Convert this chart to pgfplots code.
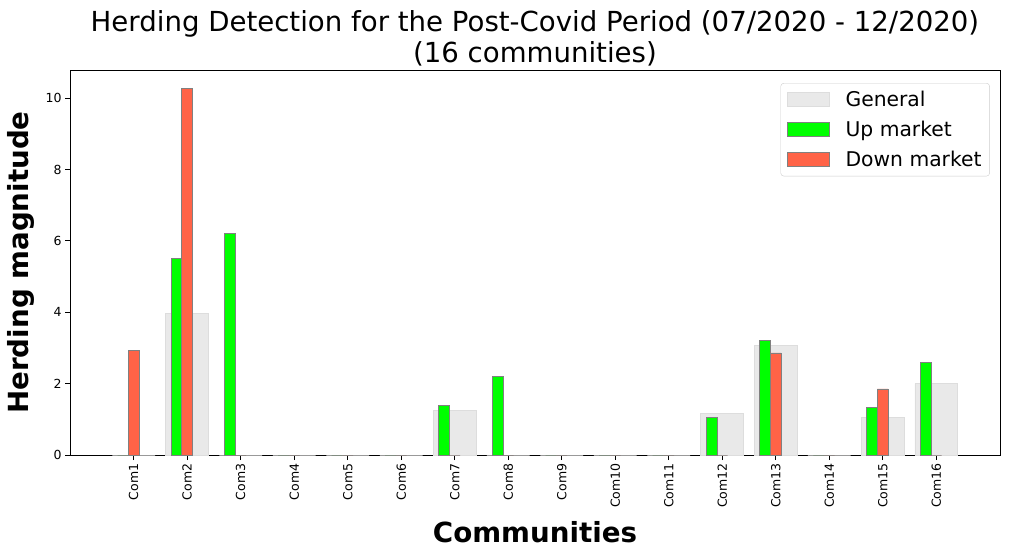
\documentclass[border=0pt]{standalone}
\usepackage{fontspec}
\setmainfont{DejaVu Sans}
\usepackage{pgfplots}
\pgfplotsset{compat=1.18}

\definecolor{upgreen}{HTML}{00FF00}
\definecolor{downred}{HTML}{FF6347}
\definecolor{edgegray}{HTML}{808080}
\definecolor{genfill}{HTML}{E9E9E9}
\definecolor{genedge}{HTML}{DDDDDD}

\begin{document}
\begin{tikzpicture}
\begin{axis}[
    scale only axis,
    width=930pt, height=385pt,
    xmin=-1.19, xmax=16.19, ymin=0, ymax=10.79,
    xtick={0,...,15},
    xticklabels={Com1,Com2,Com3,Com4,Com5,Com6,Com7,Com8,Com9,Com10,Com11,Com12,Com13,Com14,Com15,Com16},
    ytick={0,2,4,6,8,10},
    tick pos=left, tick align=outside,
    major tick length=5pt,
    every tick/.style={black, line width=0.9pt},
    axis line style={line width=0.9pt},
    /pgf/number format/assume math mode=true,
    xticklabel style={rotate=90, anchor=east, font=\fontsize{12.5}{14}\selectfont},
    yticklabel style={font=\fontsize{12.5}{14}\selectfont},
    title={Herding Detection for the Post-Covid Period (07/2020 - 12/2020)\\(16 communities)},
    title style={align=center, font=\fontsize{27.6}{30.5}\selectfont, at={(0.5,1)}, anchor=south, inner sep=0pt, yshift=-2pt},
    xlabel={\bfseries Communities},
    ylabel={\bfseries Herding magnitude},
    every axis x label/.style={at={(axis description cs:0.5,-0.2)}, anchor=center, font=\fontsize{27.7}{30}\selectfont},
    every axis y label/.style={at={(axis description cs:-0.0527,0.5)}, rotate=90, anchor=center, font=\fontsize{27.7}{30}\selectfont},
    legend cell align=left,
    legend image code/.code={\draw[#1, sharp corners] (0pt,-7pt) rectangle (42pt,7pt);},
    legend style={at={(0.989,0.966)}, anchor=north east, draw=black!20, rounded corners=3pt,
        font=\fontsize{20.3}{24}\selectfont, row sep=9pt, inner xsep=6pt, inner ysep=6pt,
        /tikz/every odd column/.append style={column sep=14pt}},
]
% General
\addplot[ybar, bar width=0.8, bar shift=0, fill=genfill, draw=genedge, line width=0.8pt]
    coordinates {(0,0) (1,3.96) (2,0) (3,0) (4,0) (5,0) (6,1.24) (7,0) (8,0) (9,0) (10,0) (11,1.17) (12,3.07) (13,0) (14,1.06) (15,2.00)};
\addlegendentry{General}
% Up market
\addplot[ybar, bar width=0.2, bar shift=-0.2, fill=upgreen, draw=edgegray, line width=0.8pt]
    coordinates {(0,0) (1,5.51) (2,6.22) (3,0) (4,0) (5,0) (6,1.38) (7,2.20) (8,0) (9,0) (10,0) (11,1.05) (12,3.21) (13,0) (14,1.34) (15,2.60)};
\addlegendentry{Up market}
% Down market
\addplot[ybar, bar width=0.2, bar shift=0, fill=downred, draw=edgegray, line width=0.8pt]
    coordinates {(0,2.93) (1,10.28) (2,0) (3,0) (4,0) (5,0) (6,0) (7,0) (8,0) (9,0) (10,0) (11,0) (12,2.86) (13,0) (14,1.85) (15,0)};
\addlegendentry{Down market}
\coordinate (ll) at (rel axis cs:0,0);
\coordinate (ur) at (rel axis cs:1,1);
\end{axis}
\pgfresetboundingbox
\path[use as bounding box] ([shift={(-70pt,-102pt)}]ll) rectangle ([shift={(10pt,70pt)}]ur);
\end{tikzpicture}
\end{document}
